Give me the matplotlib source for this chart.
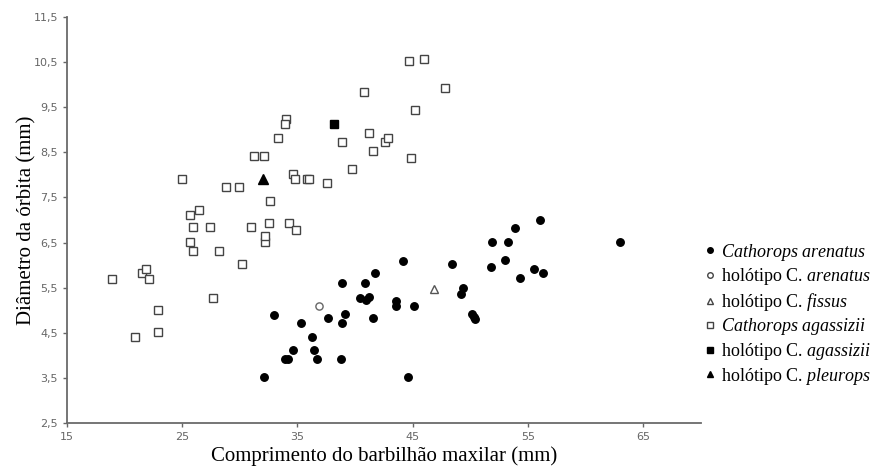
import matplotlib
matplotlib.use("Agg")
from matplotlib import pyplot as plt
from matplotlib.lines import Line2D

# Cathorops arenatus (filled circles)
arenatus_x = [32.1, 32.95, 33.9, 34.2, 34.6, 35.3, 36.3, 36.4, 36.7, 37.7,
              38.85, 38.85, 39.1, 38.8, 40.4, 40.9, 41.0, 41.2, 41.7, 41.6,
              43.6, 43.6, 44.2, 45.1, 44.6, 48.4, 49.2, 49.4, 50.2, 50.3,
              50.4, 51.8, 51.9, 53.0, 53.3, 54.3, 55.5, 56.3, 53.9, 56.1, 63.0]
arenatus_y = [3.52, 4.9, 3.92, 3.92, 4.12, 4.72, 4.41, 4.12, 3.92, 4.82,
              5.61, 4.72, 4.91, 3.92, 5.27, 5.61, 5.22, 5.29, 5.82, 4.82,
              5.21, 5.1, 6.1, 5.1, 3.52, 6.02, 5.36, 5.5, 4.91, 4.86,
              4.81, 5.97, 6.51, 6.11, 6.51, 5.71, 5.92, 5.82, 6.83, 7.01, 6.51]

# Cathorops agassizii (open squares)
agassizii_x = [18.9, 20.9, 21.5, 21.85, 22.1, 22.9, 22.9, 25.0, 25.7, 26.5,
               25.9, 25.7, 25.9, 27.4, 27.7, 28.2, 28.8, 29.9, 30.15, 31.0,
               31.2, 32.1, 32.2, 32.2, 32.5, 32.6, 33.3, 34.0, 33.9, 34.6,
               34.8, 34.3, 34.9, 35.8, 36.0, 37.6, 38.9, 39.7, 40.8, 41.2,
               41.6, 42.6, 42.9, 44.7, 46.0, 45.2, 44.9, 47.8]
agassizii_y = [5.7, 4.4, 5.82, 5.92, 5.7, 5.0, 4.52, 7.92, 7.12, 7.22,
               6.84, 6.52, 6.31, 6.84, 5.27, 6.31, 7.73, 7.73, 6.02, 6.84,
               8.43, 8.43, 6.52, 6.64, 6.94, 7.42, 8.83, 9.23, 9.14, 8.03,
               7.92, 6.94, 6.79, 7.92, 7.92, 7.82, 8.73, 8.13, 9.83, 8.94,
               8.53, 8.73, 8.83, 10.52, 10.57, 9.43, 8.37, 9.92]

# holotypes
holo_arenatus = (36.9, 5.1)
holo_fissus = (46.9, 5.48)
holo_agassizii = (38.2, 9.14)
holo_pleurops = (32.0, 7.9)

x_ticks = [15, 25, 35, 45, 55, 65]
y_ticks = [2.5, 3.5, 4.5, 5.5, 6.5, 7.5, 8.5, 9.5, 10.5, 11.5]

plt.rcParams["mathtext.fontset"] = "custom"
plt.rcParams["mathtext.rm"] = "Liberation Serif"
plt.rcParams["mathtext.it"] = "Liberation Serif:italic"

fig = plt.figure(figsize=(8.77, 4.72), dpi=100)
ax = fig.add_axes([0.0764, 0.1038, 0.7224, 0.860])

ax.plot(agassizii_x, agassizii_y, ls="none", marker="s", ms=5.6,
        mfc="white", mec="#444444", mew=1.0)
ax.plot(arenatus_x, arenatus_y, ls="none", marker="o", ms=5.4,
        mfc="black", mec="black")
ax.plot(*holo_arenatus, ls="none", marker="o", ms=5.2, mfc="white",
        mec="#666666", mew=1.0)
ax.plot(*holo_fissus, ls="none", marker="^", ms=6, mfc="white",
        mec="#555555", mew=1.0)
ax.plot(*holo_agassizii, ls="none", marker="s", ms=5.6, mfc="black", mec="black")
ax.plot(*holo_pleurops, ls="none", marker="^", ms=6.5, mfc="black", mec="black")

ax.set_xlim(15, 70)
ax.set_ylim(2.5, 11.5)
ax.set_xticks(x_ticks)
ax.set_yticks(y_ticks)
ax.set_xticklabels([str(v) for v in x_ticks])
ax.set_yticklabels([f"{v:.1f}".replace(".", ",") for v in y_ticks])
ax.tick_params(labelsize=8, colors="#666666", length=3, width=1,
               direction="out")
for side in ["top", "right"]:
    ax.spines[side].set_visible(False)
for side in ["left", "bottom"]:
    ax.spines[side].set_color("#6a6a6a")
    ax.spines[side].set_linewidth(1.3)

ax.set_xlabel("Comprimento do barbilhão maxilar (mm)", family="Liberation Serif",
              fontsize=15, labelpad=3)
ax.set_ylabel("Diâmetro da órbita (mm)", family="Liberation Serif",
              fontsize=15, labelpad=-2)

handles = [
    Line2D([], [], ls="none", marker="o", ms=4, mfc="black", mec="black"),
    Line2D([], [], ls="none", marker="o", ms=4, mfc="white", mec="#444444"),
    Line2D([], [], ls="none", marker="^", ms=4.5, mfc="white", mec="#444444"),
    Line2D([], [], ls="none", marker="s", ms=4, mfc="white", mec="#444444"),
    Line2D([], [], ls="none", marker="s", ms=4, mfc="black", mec="black"),
    Line2D([], [], ls="none", marker="^", ms=4.5, mfc="black", mec="black"),
]
labels = [
    r"$\mathit{Cathorops\ arenatus}$",
    r"holótipo C. $\mathit{arenatus}$",
    r"holótipo C. $\mathit{fissus}$",
    r"$\mathit{Cathorops\ agassizii}$",
    r"holótipo C. $\mathit{agassizii}$",
    r"holótipo C. $\mathit{pleurops}$",
]
fig.legend(handles, labels, loc="upper left", bbox_to_anchor=(0.803, 0.488),
           frameon=False, handlelength=0.6, handletextpad=0.35, labelspacing=0.2,
           borderaxespad=0, borderpad=0,
           prop={"family": "Liberation Serif", "size": 13})

fig.savefig("out.png", dpi=100)
plt.close(fig)
